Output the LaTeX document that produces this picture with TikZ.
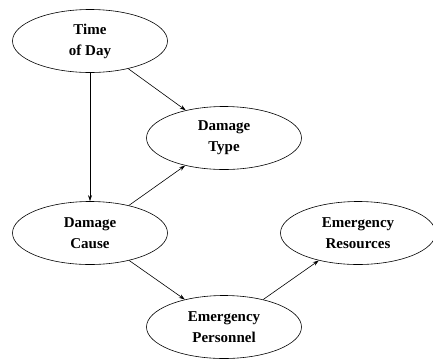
\documentclass[tikz,border=0pt]{standalone}
\usepackage{fontspec}
\setmainfont{Liberation Serif}
\usetikzlibrary{shapes.geometric,arrows.meta}
\begin{document}
\begin{tikzpicture}[x=1pt,y=-1pt,
  nd/.style={draw,ellipse,line width=0.6pt,minimum width=155pt,minimum height=63pt,inner sep=0pt,
    align=center,font=\fontsize{15}{21}\selectfont\bfseries},
  ar/.style={line width=0.6pt,-{Stealth[length=6pt,width=4pt]}}]
\useasboundingbox (0,0) rectangle (433,360);
\node[nd] (tod) at (90,41) {Time\\of Day};
\node[nd] (dt) at (224,138) {Damage\\Type};
\node[nd] (dc) at (90,233) {Damage\\Cause};
\node[nd] (ep) at (224,327) {Emergency\\Personnel};
\node[nd] (er) at (358,233) {Emergency\\Resources};
\draw[ar] (tod) -- (dc);
\draw[ar] (tod) -- (dt);
\draw[ar] (dc) -- (dt);
\draw[ar] (dc) -- (ep);
\draw[ar] (ep) -- (er);
\end{tikzpicture}
\end{document}
